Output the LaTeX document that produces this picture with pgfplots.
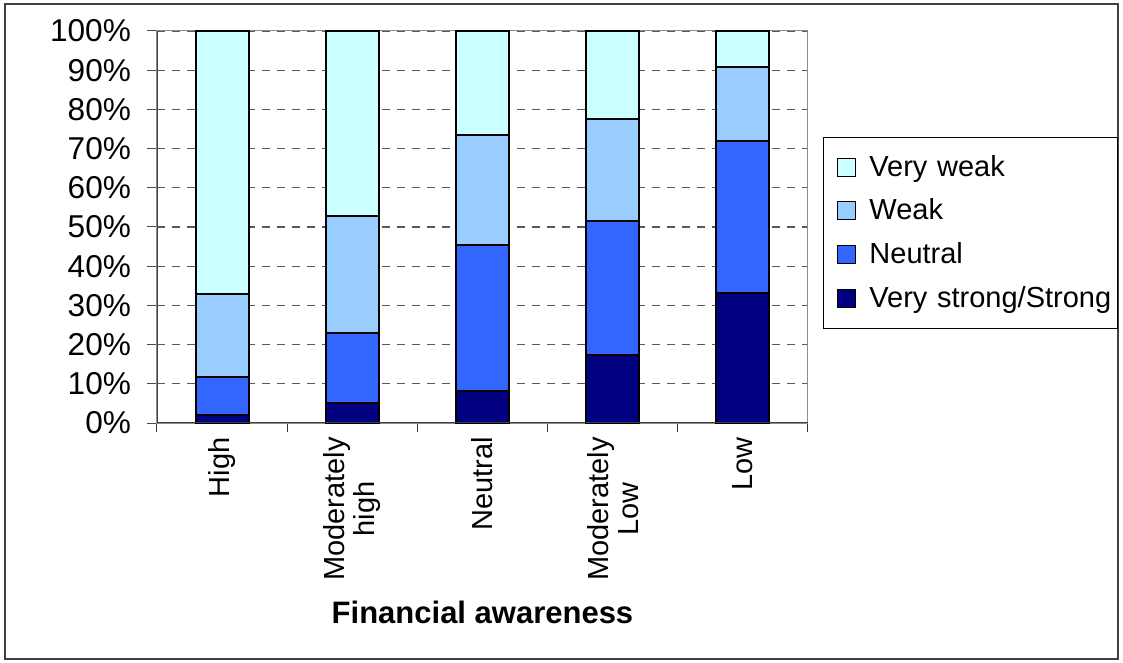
\documentclass[border=0pt]{standalone}
\usepackage{pgfplots}
\pgfplotsset{compat=1.18}
\usepackage{fontspec}
\setmainfont{Liberation Sans}
\definecolor{cVS}{HTML}{000080}
\definecolor{cN}{HTML}{3366FF}
\definecolor{cW}{HTML}{99CCFF}
\definecolor{cVW}{HTML}{CCFFFF}
\begin{document}
\begin{tikzpicture}
\useasboundingbox (-78.5pt,-120pt) rectangle (483pt,211.5pt);
\draw[line width=0.6pt, black!75] (-76pt,-118pt) rectangle (480.5pt,209.5pt);
\begin{axis}[
  at={(0,0)}, anchor=south west,
  scale only axis, width=325.5pt, height=196pt,
  ybar stacked, bar width=26.5pt,
  xmin=-0.5, xmax=4.5, ymin=0, ymax=100,
  xtick={0,1,2,3,4},
  xticklabels={High,{Moderately\\high},Neutral,{Moderately\\Low},Low},
  major x tick style={draw=none},
  minor xtick={-0.5,0.5,1.5,2.5,3.5,4.5},
  minor x tick style={black!80, line width=0.5pt},
  minor tick length=4.5pt,
  tick align=outside,
  xtick pos=bottom, ytick pos=left,
  ytick={0,10,...,100},
  yticklabel={\pgfmathprintnumber{\tick}\%},
  major tick length=5pt,
  y tick style={black!70, line width=0.5pt},
  ymajorgrids,
  grid style={black!65, dash pattern=on 4pt off 3.5pt, line width=0.6pt},
  axis line style={black!45, line width=0.5pt},
  /pgf/number format/assume math mode=true,
  xticklabel style={font=\fontsize{14.5pt}{15pt}\selectfont, rotate=90, anchor=east, align=center, inner sep=2pt},
  yticklabel style={font=\fontsize{15.8pt}{17pt}\selectfont, anchor=east, xshift=-4.5pt},
  xlabel={\textbf{Financial awareness}},
  xlabel style={font=\fontsize{15.5pt}{17pt}\selectfont, at={(axis description cs:0.5,-0.482)}, anchor=center},
  legend style={at={(1.023,0.73)}, anchor=north west, draw=black, line width=0.5pt,
    font=\fontsize{14.5pt}{17pt}\selectfont, row sep=5.8pt, inner xsep=4pt, inner ysep=7pt,
    text width=118pt, cells={anchor=west}},
  legend cell align=left,
  reverse legend,
  legend image code/.code={\path[draw=none,fill=none] (0pt,0pt) -- (17pt,0pt);\draw[#1, draw=black, line width=0.5pt] (3pt,-4.5pt) rectangle (12pt,4.5pt);},
  every axis plot/.append style={draw=black, line width=1pt},
]
\addplot[fill=cVS] coordinates {(0,2.0) (1,5.1) (2,8.2) (3,17.4) (4,33.2)};
\addplot[fill=cN] coordinates {(0,9.7) (1,17.9) (2,37.1) (3,34.1) (4,38.7)};
\addplot[fill=cW] coordinates {(0,21.1) (1,29.9) (2,28.2) (3,26.1) (4,19.0)};
\addplot[fill=cVW] coordinates {(0,67.2) (1,47.1) (2,26.5) (3,22.4) (4,9.1)};
\legend{\mbox{Very strong/Strong},\mbox{Neutral},\mbox{Weak},\mbox{Very weak}}
\end{axis}
\draw[black!75, line width=0.5pt] (0,0) -- (325.5pt,0);
\draw[black!75, line width=0.5pt] (0,0) -- (0,196pt);
\end{tikzpicture}
\end{document}
